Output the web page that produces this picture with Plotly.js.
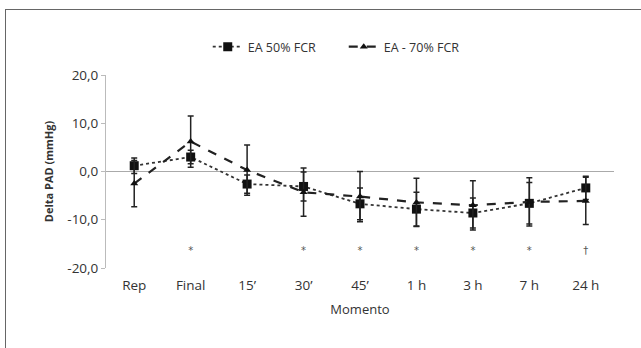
<!DOCTYPE html>
<html><head><meta charset="utf-8">
<script src="https://cdn.plot.ly/plotly-3.0.1.min.js"></script>
<style>
html,body{margin:0;padding:0;background:#fff;}
#wrap{position:relative;width:641px;height:348px;overflow:hidden;}
#frame{position:absolute;left:5px;top:9px;width:700px;height:400px;border-left:1.5px solid #666;border-top:1.5px solid #666;pointer-events:none;z-index:5;}
#chart{position:absolute;left:0;top:0;width:641px;height:348px;}
</style></head>
<body><div id="wrap"><div id="chart"></div><div id="frame"></div></div>
<script>
const categories = ["Rep","Final","15’","30’","45’","1 h","3 h","7 h","24 h"];
const ea50 = [1.2, 3.0, -2.6, -3.1, -6.7, -7.8, -8.6, -6.6, -3.4];
const ea50err = [1.6, 1.4, 1.9, 3.0, 3.3, 3.5, 3.1, 4.3, 2.4];
const ea70 = [-2.5, 6.2, 0.3, -4.3, -5.2, -6.4, -7.0, -6.3, -6.1];
const ea70err = [4.8, 5.3, 5.2, 5.0, 5.2, 5.0, 5.1, 5.0, 4.9];
const sigCats = ["Final","30’","45’","1 h","3 h","7 h","24 h"];
const sigMarks = ["*","*","*","*","*","*","†"];
const sigY = [-16.5,-16.5,-16.5,-16.5,-16.5,-16.5,-16.5];
const yTickVals = [20,10,0,-10,-20];
const yTickText = ["20,0","10,0","0,0","-10,0","-20,0"];

const font = "Open Sans, Lato, sans-serif";
const traces = [
  {x: categories, y: ea50, name: "EA 50% FCR", type: "scatter", mode: "lines+markers",
   line: {color: "#333", width: 1.8, dash: "dot"},
   marker: {symbol: "square", size: 9, color: "#111"},
   error_y: {type: "data", array: ea50err, visible: true, color: "#222", thickness: 1.5, width: 3}},
  {x: categories, y: ea70, name: "EA - 70% FCR", type: "scatter", mode: "lines+markers",
   line: {color: "#222", width: 2.2, dash: "dash"},
   marker: {symbol: "triangle-up", size: 7, color: "#111"},
   error_y: {type: "data", array: ea70err, visible: true, color: "#222", thickness: 1.5, width: 3}},
  {x: sigCats, y: sigY, text: sigMarks, mode: "text", type: "scatter", showlegend: false,
   textfont: {family: "DejaVu Sans, sans-serif", size: 10, color: "#555"}, hoverinfo: "skip"}
];
const layout = {
  width: 641, height: 348,
  margin: {l: 106, r: 27, t: 75, b: 80},
  paper_bgcolor: "#fff", plot_bgcolor: "#fff",
  font: {family: font, color: "#333", size: 13},
  showlegend: true,
  legend: {orientation: "h", x: 0.468, xanchor: "center", y: 1.145, yanchor: "middle",
           font: {family: font, size: 12.5, color: "#333"}, tracegroupgap: 0, entrywidth: 91},
  xaxis: {type: "category", range: [-0.5, 8.5], showgrid: false, zeroline: false, showline: false,
          ticks: "outside", ticklen: 5, tickcolor: "rgba(0,0,0,0)",
          tickfont: {family: font, size: 13.5, color: "#333"},
          title: {text: "Momento", font: {family: font, size: 13, color: "#333"}, standoff: 11}},
  yaxis: {range: [-20, 20], tickvals: yTickVals, ticktext: yTickText, showgrid: false,
          zeroline: true, zerolinecolor: "#aaa", zerolinewidth: 1,
          showline: true, linecolor: "#bbb", linewidth: 1, ticks: "outside", ticklen: 4, tickcolor: "#bbb",
          tickfont: {family: font, size: 13.5, color: "#333"},
          title: {text: "<b>Delta PAD (mmHg)</b>", font: {family: font, size: 11, color: "#333"}, standoff: 11}}
};
Plotly.newPlot("chart", traces, layout, {displayModeBar: false, staticPlot: true});
</script></body></html>
